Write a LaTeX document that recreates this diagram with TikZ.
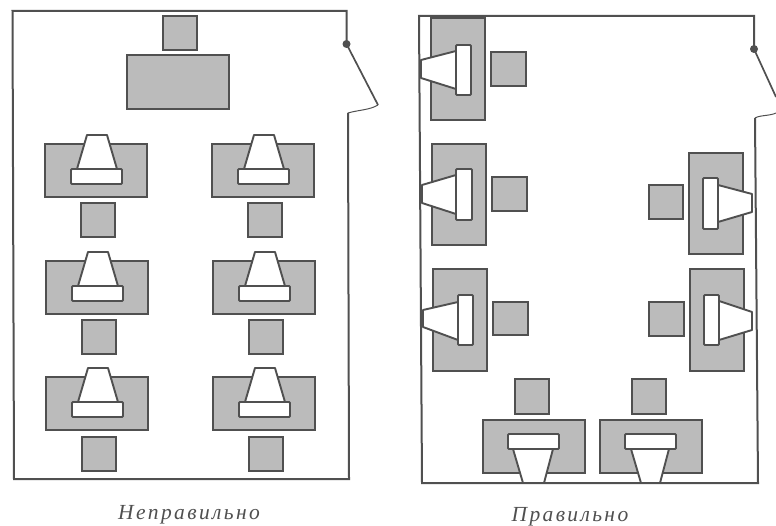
\documentclass[tikz,border=0pt]{standalone}
\usepackage{fontspec}
\newfontfamily\capfont[LetterSpace=11]{Liberation Serif}
\definecolor{furn}{HTML}{BBBBBB}
\definecolor{ink}{HTML}{505050}
\tikzset{
  wall/.style={draw=ink,line width=2pt,line join=miter},
  door/.style={draw=ink,line width=1.7pt},
  jamb/.style={draw=ink,line width=1pt},
  furniture/.style={draw=ink,line width=2pt,fill=furn},
  screen/.style={draw=ink,line width=1.9pt,fill=white,line join=round},
  keys/.style={draw=ink,line width=1.9pt,fill=white,rounded corners=1pt},
  caption/.style={text=ink,font=\capfont\itshape\fontsize{21.5}{25}\selectfont,inner sep=0pt}
}
\newcommand{\boxat}[4]{\path[furniture] (#1,#2) rectangle (#3,#4);}
\newcommand{\monat}[8]{\path[screen] (#1,#2) -- (#3,#4) -- (#5,#6) -- (#7,#8) -- cycle;}
\newcommand{\keysat}[4]{\path[keys] (#1,#2) rectangle (#3,#4);}
\newcommand{\upstation}[3]{%
  \boxat{#1}{#2}{#1+102}{#2+53}
  \monat{#1+32}{#2+25}{#1+42}{#2-9}{#1+62}{#2-9}{#1+72}{#2+25}
  \keysat{#1+26}{#2+25}{#1+77}{#2+40}
  \boxat{#1+35.5}{#2+#3}{#1+70}{#2+#3+34}}
\begin{document}
\begin{tikzpicture}[x=1pt,y=-1pt]
\useasboundingbox[fill=white] (0,0) rectangle (776,526);
% left room
\boxat{163}{16}{197}{50}
\boxat{127}{55}{229}{109}
\upstation{45}{144}{59}
\upstation{212}{144}{59}
\upstation{46}{261}{59}
\upstation{213}{261}{59}
\upstation{46}{377}{60}
\upstation{213}{377}{60}
\path[wall] (346.5,44) -- (346.5,11) -- (12.5,11) -- (14,479) -- (349,479) -- (348,113);
\coordinate (hingeA) at (346.5,44);
\coordinate (doorA) at (378,105);
\coordinate (jambA) at (348,113);
\path[door] (hingeA) -- (doorA);
\path[jamb] (jambA) .. controls (358,110) and (370,110) .. (doorA);
\fill[ink] (hingeA) circle (4pt);
% right room: left column
\boxat{431}{18}{485}{120}
\monat{456}{51}{421}{60}{421}{78}{456}{89}
\keysat{456}{45}{471}{95}
\boxat{491}{52}{526}{86}
\boxat{432}{144}{486}{245}
\monat{456}{175}{422}{185}{422}{203}{456}{214}
\keysat{456}{169}{472}{220}
\boxat{492}{177}{527}{211}
\boxat{433}{269}{487}{371}
\monat{458}{302}{423}{310}{423}{327}{458}{340}
\keysat{458}{295}{473}{345}
\boxat{493}{302}{528}{335}
% right room: right column
\boxat{689}{153}{743}{254}
\monat{718}{185}{752}{194}{752}{212}{718}{222}
\keysat{703}{178}{718}{229}
\boxat{649}{185}{683}{219}
\boxat{690}{269}{744}{371}
\monat{719}{301}{752}{312}{752}{330}{719}{340}
\keysat{704}{295}{719}{345}
\boxat{649}{302}{684}{336}
% right room: bottom row
\boxat{515}{379}{549}{414}
\boxat{632}{379}{666}{414}
\boxat{483}{420}{585}{473}
\monat{513}{449}{523}{483}{544}{483}{553}{449}
\keysat{508}{434}{559}{449}
\boxat{600}{420}{702}{473}
\monat{631}{449}{641}{483}{660}{483}{669}{449}
\keysat{625}{434}{676}{449}
\path[wall] (754,49) -- (754,16) -- (419,16) -- (422,483) -- (758,483) -- (755,118);
\coordinate (hingeB) at (754,49);
\coordinate (doorB) at (776,97);
\coordinate (jambB) at (755,118);
\path[door] (hingeB) -- (doorB);
\path[jamb] (jambB) .. controls (760,115) and (770,116) .. (776,113);
\fill[ink] (hingeB) circle (4pt);
% captions
\node[caption] (wrong) at (189,515) {Неправильно};
\node[caption] (right) at (570,517) {Правильно};
\end{tikzpicture}
\end{document}
